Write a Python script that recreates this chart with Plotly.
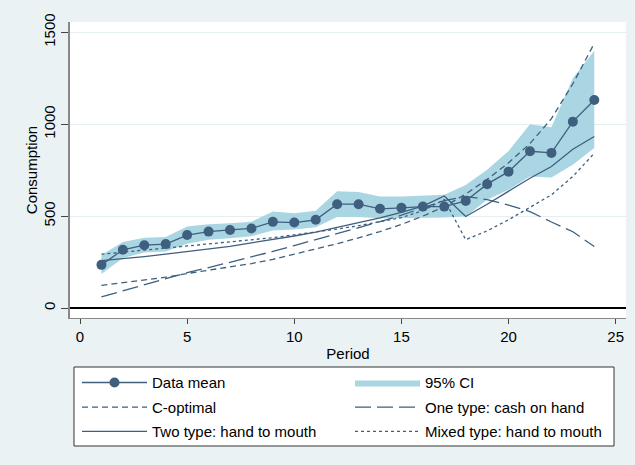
import plotly.graph_objects as go

# ---------------- data ----------------
period = list(range(1, 25))
data_mean = [235, 317, 342, 348, 397, 416, 425, 433, 469, 465, 480, 565,
             565, 540, 545, 552, 552, 583, 674, 742, 853, 844, 1014, 1132]
ci_upper = [288, 359, 382, 386, 444, 456, 462, 469, 525, 516, 530, 635,
            632, 607, 607, 612, 617, 670, 752, 855, 1000, 984, 1250, 1400]
ci_lower = [185, 272, 302, 308, 350, 371, 380, 391, 422, 428, 440, 495,
            495, 489, 489, 489, 492, 498, 589, 643, 715, 710, 779, 870]
c_optimal = [123, 137, 152, 168, 188, 205, 222, 242, 265, 292, 320, 350,
             382, 416, 455, 500, 552, 620, 700, 790, 895, 1030, 1220, 1440]
one_type = [61, 95, 128, 160, 193, 220, 248, 278, 308, 340, 372, 405,
            438, 470, 505, 545, 585, 607, 590, 560, 525, 468, 415, 335]
two_type = [258, 268, 280, 293, 306, 320, 336, 355, 373, 392, 413, 438,
            462, 490, 520, 555, 610, 498, 565, 634, 706, 770, 864, 933]
mixed_type = [293, 305, 317, 328, 338, 349, 360, 371, 383, 398, 413, 430,
              448, 468, 492, 530, 590, 372, 420, 480, 548, 616, 716, 842]

x_ticks = [0, 5, 10, 15, 20, 25]
y_ticks = [0, 500, 1000, 1500]

# ---------------- styles ----------------
LINE = "rgb(62,95,125)"
BAND = "rgb(170,214,228)"
BG = "rgb(234,242,243)"
FONT = "Liberation Sans, Arial, sans-serif"
FS = 15

fig = go.Figure()

fig.add_trace(go.Scatter(x=period, y=ci_lower, mode="lines", line=dict(width=0),
                         showlegend=False, hoverinfo="skip"))
fig.add_trace(go.Scatter(x=period, y=ci_upper, mode="lines", line=dict(width=0),
                         fill="tonexty", fillcolor=BAND, name="95% CI",
                         legend="legend", legendrank=2))
fig.add_trace(go.Scatter(x=period, y=c_optimal, mode="lines", name="C-optimal",
                         line=dict(color=LINE, width=1.3, dash="6px,4px"),
                         legend="legend2", legendrank=3))
fig.add_trace(go.Scatter(x=period, y=one_type, mode="lines", name="One type: cash on hand",
                         line=dict(color=LINE, width=1.3, dash="16px,6px"),
                         legend="legend2", legendrank=4))
fig.add_trace(go.Scatter(x=period, y=two_type, mode="lines", name="Two type: hand to mouth",
                         line=dict(color=LINE, width=1.3),
                         legend="legend3", legendrank=5))
fig.add_trace(go.Scatter(x=period, y=mixed_type, mode="lines", name="Mixed type: hand to mouth",
                         line=dict(color=LINE, width=1.3, dash="3px,3px"),
                         legend="legend3", legendrank=6))
fig.add_trace(go.Scatter(x=period, y=data_mean, mode="lines+markers", name="Data mean",
                         line=dict(color=LINE, width=1.3),
                         marker=dict(color=LINE, size=10),
                         legend="legend", legendrank=1))

leg_common = dict(orientation="h", xanchor="left", yanchor="top", x=7 / 556,
                  traceorder="normal",
                  bgcolor="rgba(0,0,0,0)", borderwidth=0,
                  font=dict(family=FONT, size=FS, color="black"),
                  itemwidth=65, entrywidth=193, entrywidthmode="pixels",
                  itemclick=False, itemdoubleclick=False)

fig.update_layout(
    width=635, height=465,
    margin=dict(l=70, r=9, t=22, b=147, pad=0),
    paper_bgcolor=BG, plot_bgcolor="white",
    font=dict(family=FONT, size=FS, color="black"),
    legend=dict(**leg_common, y=-0.163),
    legend2=dict(**leg_common, y=-0.246),
    legend3=dict(**leg_common, y=-0.328),
    xaxis=dict(range=[-0.467, 25.48], tickvals=x_ticks, ticks="outside", ticklen=5,
               tickcolor="#444", showline=True, linecolor="#888", linewidth=1,
               showgrid=False, zeroline=False, automargin=False,
               title=dict(text="Period", standoff=4, font=dict(size=FS)),
               tickfont=dict(size=FS)),
    yaxis=dict(range=[-54, 1556], tickvals=y_ticks, ticks="outside", ticklen=7,
               tickcolor="#444", tickangle=-90, showline=True, linecolor="#888",
               linewidth=1.5, showgrid=True, gridcolor="rgb(230,239,240)",
               zeroline=True, zerolinecolor="black", zerolinewidth=1.5,
               automargin=False,
               title=dict(text="Consumption", standoff=0, font=dict(size=FS)),
               tickfont=dict(size=FS)),
    shapes=[dict(type="rect", xref="paper", yref="paper",
                 x0=(74 - 70) / 556, x1=(614 - 70) / 556,
                 y0=(318 - 446) / 296, y1=(318 - 367) / 296,
                 line=dict(color="#333", width=1), fillcolor="white", layer="below")],
)

fig.write_html("out.html", config={"displayModeBar": False},
               post_script="document.body.style.margin='0px';")
